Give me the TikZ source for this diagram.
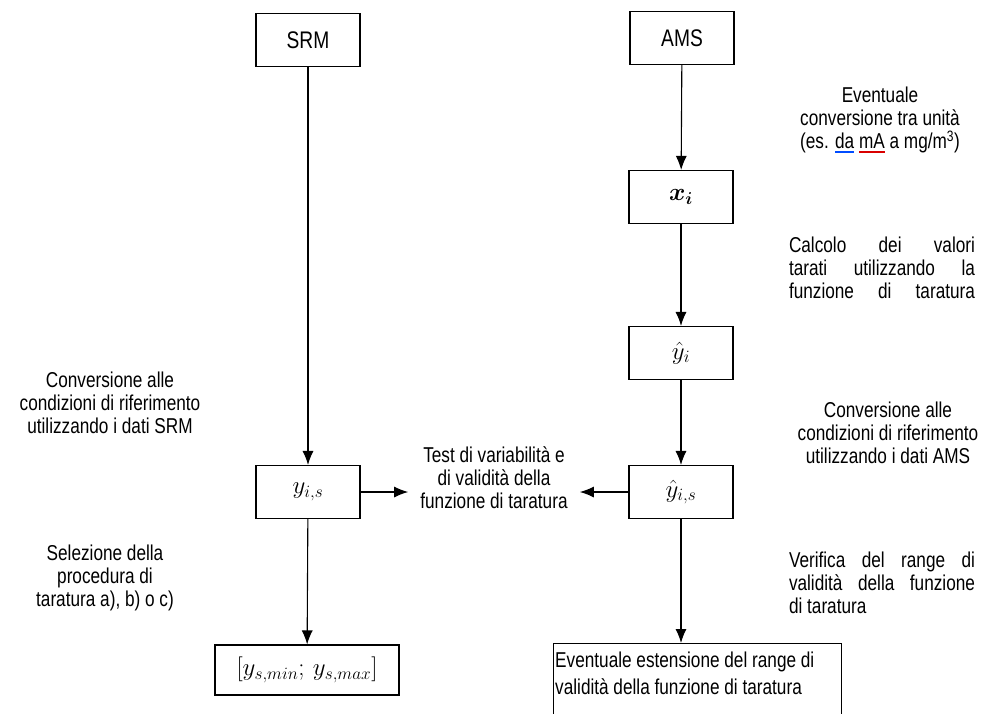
\documentclass[tikz,border=0pt]{standalone}
\usepackage{amsmath,amssymb,bm}
\usepackage{fontspec}
\setmainfont{Liberation Sans}[FakeStretch=0.8]
\usetikzlibrary{arrows.meta}
\newcommand\ulc[2]{\setbox0\hbox{#2}\rlap{\color{#1}\rule[-4pt]{\wd0}{1.5pt}}\box0\relax}
\newcommand\jline[1]{\hbox to 186pt{#1}}
\tikzset{
  box/.style={draw, line width=1.1pt, minimum width=104pt, minimum height=53pt, inner sep=0pt, font=\fontsize{24}{27}\selectfont},
  mbox/.style={box, font=\fontsize{25}{29}\selectfont},
  note/.style={font=\fontsize{21.5}{23}\selectfont, align=center, inner sep=0pt},
  jnote/.style={font=\fontsize{21.5}{23}\selectfont, align=left, inner sep=0pt},
  arr/.style={line width=1.1pt, -{Latex[length=14pt,width=11pt]}},
}
\begin{document}
\begin{tikzpicture}[x=1pt,y=-1pt]
\clip (0,0) rectangle (982,713);
\fill[white] (0,0) rectangle (982,713);
% left column
\node[box] (srm) at (308,40) {SRM};
\node[mbox] (yis) at (308,492) {$y_{i,s}$};
\node[mbox, minimum width=184pt, minimum height=50pt] (range) at (307,670) {$\left[y_{s,min};\,y_{s,max}\right]$};
% right column
\node[box] (ams) at (682,38) {AMS};
\node[mbox] (xi) at (681,197) {$\bm{x_i}$};
\node[mbox] (yh) at (681,353) {$\hat{y}_i$};
\node[mbox] (yhs) at (681,492) {$\hat{y}_{i,s}$};
\node[draw, line width=1.1pt, anchor=north west, minimum width=288pt, minimum height=90pt, inner sep=0pt] (ext) at (553,643) {};
\node[font=\fontsize{21.5}{27}\selectfont, align=left, anchor=north west, inner sep=0pt] (exttxt) at (555,652) {Eventuale estensione del range di\\validità della funzione di taratura};
% centre
\node[note] (test) at (494,478) {Test di variabilità e\\di validità della\\funzione di taratura};
% side notes
\node[note] (n1) at (880,120) {Eventuale\\conversione tra unità\\(es. \ulc{blue!70!cyan}{da} \ulc{red!85!black}{mA} a mg/m\textsuperscript{3})};
\node[jnote] (n2) at (882,268) {\jline{Calcolo\hfill dei\hfill valori}\\\jline{tarati\hfill utilizzando\hfill la}\\\jline{funzione\hfill di\hfill taratura}};
\node[note] (n3) at (888,433) {Conversione alle\\condizioni di riferimento\\utilizzando i dati AMS};
\node[jnote] (n4) at (882,583) {\jline{Verifica\hfill del\hfill range\hfill di}\\\jline{validità\hfill della\hfill funzione}\\\jline{di taratura\hfill}};
\node[note] (n5) at (110,403) {Conversione alle\\condizioni di riferimento\\utilizzando i dati SRM};
\node[note] (n6) at (105,578) {Selezione della\\procedura di\\taratura a), b) o c)};
% connectors
\draw[arr] (srm) -- (yis);
\draw[arr] (yis) -- (range);
\draw[arr] (ams) -- (xi);
\draw[arr] (xi) -- (yh);
\draw[arr] (yh) -- (yhs);
\draw[arr] (yhs.south) -- (yhs.south |- ext.north);
\draw[arr, shorten >=12pt] (yis.east) -- (test.west |- yis.east);
\draw[arr, shorten >=12pt] (yhs.west) -- (test.east |- yhs.west);
\end{tikzpicture}
\end{document}
